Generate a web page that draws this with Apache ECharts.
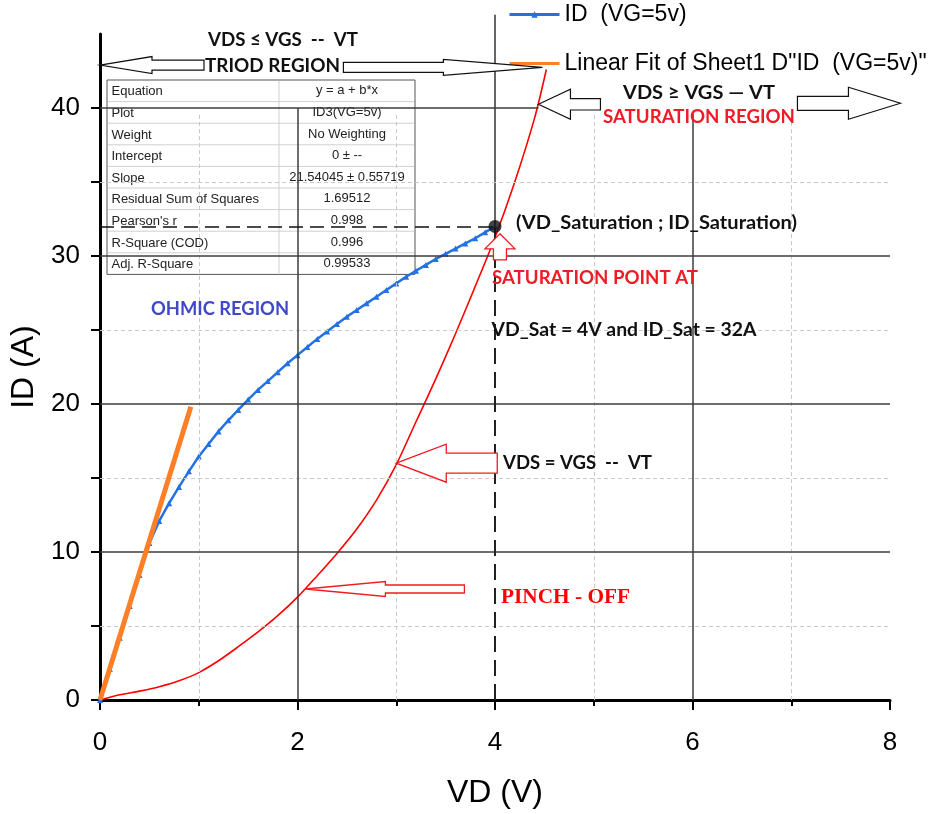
<!DOCTYPE html>
<html>
<head>
<meta charset="utf-8">
<title>ID vs VD (VG = 5 V)</title>
<script src="https://cdn.jsdelivr.net/npm/echarts@6/dist/echarts.min.js"></script>
<style>
  html, body { margin: 0; padding: 0; background: #ffffff; }
  #chart { width: 939px; height: 814px; }
</style>
</head>
<body>
<div id="chart"></div>
<script>
// Measured drain current ID (A) against drain voltage VD (V), gate at 5 V
const VD_MEAS = [0, 0.1, 0.2, 0.3, 0.4, 0.5, 0.6, 0.7, 0.8, 0.9, 1.0, 1.1, 1.2, 1.3, 1.4,
  1.5, 1.6, 1.7, 1.8, 1.9, 2.0, 2.1, 2.2, 2.3, 2.4, 2.5, 2.6, 2.7, 2.8, 2.9, 3.0,
  3.1, 3.2, 3.3, 3.4, 3.5, 3.6, 3.7, 3.8, 3.9, 4.0];
const ID_MEAS = [0, 2.1, 4.2, 6.35, 8.45, 10.6, 12.1, 13.3, 14.4, 15.45, 16.45, 17.3, 18.15,
  18.9, 19.6, 20.3, 20.95, 21.55, 22.15, 22.75, 23.3, 23.85, 24.4, 24.9, 25.4, 25.9,
  26.35, 26.8, 27.25, 27.7, 28.15, 28.6, 29.0, 29.4, 29.8, 30.15, 30.5, 30.85, 31.2,
  31.6, 32.0];

// Linear fit through the origin (intercept 0), drawn over its fitted VD range
const FIT_SLOPE = 21.54045;
const FIT_VD = [0, 0.92];

// Boundary curve VDS = VGS - VT (pinch-off locus)
const VD_LOCUS = [0, 0.2, 0.4, 0.6, 0.8, 1.0, 1.2, 1.4, 1.6, 1.8, 2.0, 2.2, 2.4, 2.6,
  2.8, 3.0, 3.2, 3.4, 3.6, 3.8, 4.0, 4.2, 4.4, 4.52];
const ID_LOCUS = [0, 0.35, 0.6, 0.9, 1.3, 1.85, 2.65, 3.6, 4.6, 5.7, 6.95, 8.4, 9.9, 11.55,
  13.5, 15.9, 18.8, 21.7, 24.75, 27.95, 31.25, 35.0, 39.3, 42.6];

// Saturation point (VD_Sat, ID_Sat)
const SAT_POINT = [4, 32];

// Axis ticks
const X_TICKS = [0, 2, 4, 6, 8];
const Y_TICKS = [0, 5, 10, 15, 20, 25, 30, 35, 40];
const Y_LABELS = [0, 10, 20, 30, 40];
const X_MAJOR_GRID = [2, 6];
const X_MINOR_GRID = [1, 3, 5, 7];
const Y_MAJOR_GRID = [10, 20, 30, 40];
const Y_MINOR_GRID = [5, 15, 25, 35];

// Fit report
const FIT_LABELS = ['Equation', 'Plot', 'Weight', 'Intercept', 'Slope',
  'Residual Sum of Squares', "Pearson's r", 'R-Square (COD)', 'Adj. R-Square'];
const FIT_VALUES = ['y = a + b*x', 'ID3(VG=5v)', 'No Weighting', '0 \u00b1 --',
  '21.54045 \u00b1 0.55719', '1.69512', '0.998', '0.996', '0.99533'];

const SERIES_MEAS = 'ID  (VG=5v)';
const SERIES_FIT = 'Linear Fit of Sheet1 D"ID  (VG=5v)"';

const zip = (xs, ys) => xs.map((x, i) => [x, ys[i]]);

const chart = echarts.init(document.getElementById('chart'), null, { renderer: 'canvas' });

const X_MAX = 8, Y_MAX = 45;
const TOP_GUIDE = 39.6;

const majorStyle = { color: '#3c3c3c', width: 1.5, type: 'solid' };
const minorStyle = { color: '#c9c9c9', width: 1, type: [4, 3] };

const guideLines = [];
X_MINOR_GRID.forEach(x => guideLines.push([{ coord: [x, 0], lineStyle: minorStyle }, { coord: [x, TOP_GUIDE] }]));
Y_MINOR_GRID.forEach(y => guideLines.push([{ coord: [0, y], lineStyle: minorStyle }, { coord: [X_MAX, y] }]));
Y_MAJOR_GRID.forEach(y => guideLines.push([{ coord: [0, y], lineStyle: majorStyle },
  { coord: [y === 40 ? 4.44 : X_MAX, y] }]));
X_MAJOR_GRID.forEach(x => guideLines.push([{ coord: [x, 0], lineStyle: majorStyle },
  { coord: [x, x === 6 ? TOP_GUIDE : 40] }]));
// dashed projections of the saturation point
guideLines.push([{ coord: [0, SAT_POINT[1]], lineStyle: { color: '#111', width: 1.5, type: [14, 7] } },
  { coord: SAT_POINT }]);
guideLines.push([{ coord: [SAT_POINT[0], 0], lineStyle: { color: '#222', width: 2, type: [16, 8] } },
  { coord: SAT_POINT }]);

const axisFont = { fontFamily: '"Liberation Sans", Arial, sans-serif', color: '#000' };

chart.setOption({
  animation: false,
  backgroundColor: '#ffffff',
  grid: { left: 100, right: 49, top: 34, bottom: 108, containLabel: false },
  legend: {
    orient: 'vertical',
    left: 503,
    top: 3,
    padding: [0, 5, 0, 5],
    itemWidth: 50,
    itemHeight: 8,
    itemGap: 26,
    selectedMode: false,
    textStyle: { fontSize: 23, fontFamily: '"Liberation Sans", Arial, sans-serif', color: '#000' },
    data: [
      { name: SERIES_MEAS, lineStyle: { width: 3 } },
      { name: SERIES_FIT, lineStyle: { width: 3 }, itemStyle: { opacity: 0 } }
    ]
  },
  xAxis: {
    type: 'value',
    min: 0, max: X_MAX, interval: 2,
    name: 'VD (V)',
    nameLocation: 'middle',
    nameGap: 77,
    nameTextStyle: Object.assign({ fontSize: 32 }, axisFont),
    axisLine: { show: true, onZero: false, lineStyle: { color: '#000', width: 3 } },
    axisTick: { show: true, length: 10, lineStyle: { color: '#000', width: 2 }, customValues: X_TICKS },
    minorTick: { show: true, splitNumber: 2, length: 6, lineStyle: { color: '#000', width: 2 } },
    axisLabel: Object.assign({ fontSize: 26, margin: 30, customValues: X_TICKS }, axisFont),
    splitLine: { show: false },
    minorSplitLine: { show: false }
  },
  yAxis: {
    type: 'value',
    min: 0, max: Y_MAX, interval: 5,
    name: 'ID (A)',
    nameLocation: 'middle',
    nameGap: 48,
    nameTextStyle: Object.assign({ fontSize: 32 }, axisFont),
    axisLine: { show: true, onZero: false, lineStyle: { color: '#000', width: 3 } },
    axisTick: { show: true, length: 9, lineStyle: { color: '#000', width: 2 }, customValues: Y_TICKS },
    axisLabel: Object.assign({
      fontSize: 26, margin: 20, customValues: Y_LABELS,
      formatter: v => (v % 10 === 0 && v <= 40 ? String(v) : '')
    }, axisFont),
    splitLine: { show: false }
  },
  series: [
    {
      name: 'guides',
      type: 'line',
      data: [],
      silent: true,
      z: 1,
      markLine: {
        silent: true,
        animation: false,
        symbol: ['none', 'none'],
        label: { show: false },
        emphasis: { disabled: true },
        data: guideLines
      }
    },
    {
      name: 'VDS = VGS - VT',
      type: 'line',
      data: zip(VD_LOCUS, ID_LOCUS),
      smooth: 0.3,
      showSymbol: false,
      symbol: 'none',
      lineStyle: { color: '#ff0000', width: 1.6 },
      z: 3
    },
    {
      name: SERIES_MEAS,
      type: 'line',
      data: zip(VD_MEAS, ID_MEAS),
      symbol: 'triangle',
      symbolSize: 6,
      lineStyle: { color: '#2272e4', width: 2.5 },
      itemStyle: { color: '#2272e4' },
      z: 4
    },
    {
      name: SERIES_FIT,
      type: 'line',
      data: FIT_VD.map(x => [x, FIT_SLOPE * x]),
      symbol: 'none',
      lineStyle: { color: '#ff7f27', width: 5 },
      itemStyle: { color: '#ff7f27' },
      z: 5
    },
    {
      name: 'saturation point',
      type: 'scatter',
      data: [SAT_POINT],
      symbolSize: 13,
      itemStyle: { color: '#111111' },
      z: 6
    }
  ]
});

// ---- annotations ----
const toPx = p => chart.convertToPixel({ gridIndex: 0 }, p);

function blockArrow(tip, dir, hl, hh, bl, bh, stroke, lw) {
  const dx = dir[0], dy = dir[1];
  const nx = -dy, ny = dx;
  const pt = (u, v) => [tip[0] + u * dx + v * nx, tip[1] + u * dy + v * ny];
  return {
    type: 'polygon', z: 50,
    shape: { points: [pt(0, 0), pt(-hl, hh), pt(-hl, bh), pt(-hl - bl, bh),
      pt(-hl - bl, -bh), pt(-hl, -bh), pt(-hl, -hh)] },
    style: { fill: '#ffffff', stroke: stroke, lineWidth: lw }
  };
}

const measureCtx = document.createElement('canvas').getContext('2d');
function fittedText(str, cx, cy, width, font, color) {
  measureCtx.font = font;
  const w = measureCtx.measureText(str).width || width;
  return {
    type: 'text', x: cx, y: cy, z: 60, scaleX: width / w,
    style: { text: str, font: font, fill: color, align: 'center', verticalAlign: 'middle' }
  };
}

const BOLD = 'bold 19px Lato, "Open Sans", sans-serif';
const RED = '#ee1c25';

const tipTriodL = toPx([0, 42.9]);
const tipTriodR = toPx([4.48, 42.75]);
const tipSatL = toPx([4.44, 40.25]);
const tipSatPoint = toPx([4.05, 31.5]);
const tipLocus = toPx([3.0, 16.0]);
const tipPinch = toPx([2.08, 7.5]);
const satPx = toPx(SAT_POINT);
const topPx = toPx([4, 46.3]);

const graphics = [];

// region arrows
graphics.push(blockArrow(tipTriodL, [-1, 0], 52, 8.5, 52, 5, '#111', 1.2));
graphics.push(blockArrow(tipTriodR, [1, 0], 99, 8, 100, 5, '#111', 1.2));
graphics.push(blockArrow(tipSatL, [-1, 0], 32, 15, 30, 5.7, '#111', 1.2));
graphics.push(blockArrow([tipSatL[0] + 362, tipSatL[1] - 1], [1, 0], 52, 16, 51, 7, '#111', 1.2));
graphics.push(blockArrow(tipSatPoint, [0, -1], 15, 15, 11, 6.5, RED, 1.3));
graphics.push(blockArrow(tipLocus, [-1, 0], 50, 19, 51, 10, RED, 1.3));
graphics.push(blockArrow(tipPinch, [-1, 0], 80, 7.5, 79, 4, RED, 1.3));

// upper part of the VD = 4 V guide
graphics.push({
  type: 'line', z: 2,
  shape: { x1: satPx[0], y1: satPx[1], x2: topPx[0], y2: topPx[1] },
  style: { stroke: '#333', lineWidth: 1.5 }
});

// labels
graphics.push(fittedText('VDS \u2264 VGS  --  VT', 283, 40, 150, BOLD, '#111'));
graphics.push(fittedText('TRIOD REGION', 272.5, 66, 135, BOLD, '#111'));
graphics.push(fittedText('VDS \u2265 VGS \u2014 VT', 699, 93, 152, BOLD, '#111'));
graphics.push(fittedText('SATURATION REGION', 699, 117, 192, BOLD, RED));
graphics.push(fittedText('(VD_Saturation ; ID_Saturation)', 656.5, 223, 281, BOLD, '#111'));
graphics.push(fittedText('SATURATION POINT AT', 595, 278, 206, BOLD, RED));
graphics.push(fittedText('VD_Sat = 4V and ID_Sat = 32A', 624, 330, 265, BOLD, '#111'));
graphics.push(fittedText('VDS = VGS  --  VT', 577.5, 463, 149, BOLD, '#111'));
graphics.push(fittedText('PINCH - OFF', 565.5, 598, 129, 'bold 21px "Liberation Serif", "Times New Roman", serif', '#ff0000'));
graphics.push(fittedText('OHMIC REGION', 220, 309, 138, 'bold 18px Lato, "Open Sans", sans-serif', '#4048c8'));

// fit report table
const T_LEFT = 107, T_TOP = 80, T_W = 308, ROW_H = 21.6, COL_X = 172;
const tableChildren = [{
  type: 'rect', shape: { x: 0, y: 0, width: T_W, height: ROW_H * FIT_LABELS.length },
  style: { fill: '#ffffff', stroke: '#555555', lineWidth: 1 }
}];
for (let i = 1; i < FIT_LABELS.length; i++) {
  tableChildren.push({ type: 'line', shape: { x1: 1, y1: ROW_H * i, x2: T_W - 1, y2: ROW_H * i },
    style: { stroke: '#d0d0d0', lineWidth: 1 } });
}
tableChildren.push({ type: 'line', shape: { x1: COL_X, y1: 1, x2: COL_X, y2: ROW_H * FIT_LABELS.length - 1 },
  style: { stroke: '#d0d0d0', lineWidth: 1 } });
FIT_LABELS.forEach((t, i) => {
  tableChildren.push({ type: 'text', x: 4.5, y: ROW_H * (i + 0.5) + 1,
    style: { text: t, font: '13px "Liberation Sans", Arial, sans-serif', fill: '#222', align: 'left', verticalAlign: 'middle' } });
  tableChildren.push({ type: 'text', x: (COL_X + T_W) / 2, y: ROW_H * (i + 0.5),
    style: { text: FIT_VALUES[i], font: '13px "Liberation Sans", Arial, sans-serif', fill: '#222', align: 'center', verticalAlign: 'middle' } });
});
graphics.push({ type: 'group', x: T_LEFT, y: T_TOP, z: 40, children: tableChildren });

chart.setOption({ graphic: { elements: graphics } });
</script>
</body>
</html>
